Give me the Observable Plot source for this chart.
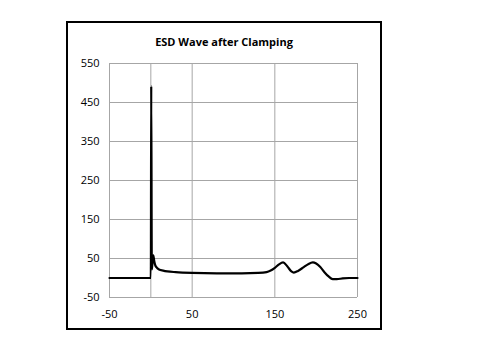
<!DOCTYPE html>
<html>
<head>
<meta charset="utf-8">
<script src="https://cdn.jsdelivr.net/npm/d3@7"></script>
<script src="https://cdn.jsdelivr.net/npm/@observablehq/plot@0.6"></script>
<style>
  html, body { margin: 0; padding: 0; background: #fff; }
  #page { position: relative; width: 502px; height: 356px; overflow: hidden; font-family: "Open Sans", sans-serif; }
  #frame { position: absolute; left: 66px; top: 21px; width: 312px; height: 305px; border: 2px solid #000; }
  #title { position: absolute; left: 66px; width: 316px; top: 34px; text-align: center; font-weight: bold; font-size: 11px; color: #000; }
  #chart { position: absolute; left: 67px; top: 50px; }
</style>
</head>
<body>
<div id="page">
  <div id="frame"></div>
  <div id="title">ESD Wave after Clamping</div>
  <div id="chart"></div>
</div>
<script>
// Time axis (x) and voltage (y)
const time = [-50, -0.2, 0, 0.5, 1.2, 2, 3, 4, 5, 7, 10, 15, 20, 30, 50, 80, 110, 130, 140, 145, 150, 155, 160, 165, 170, 173, 178, 185, 190, 196, 200, 205, 210, 215, 220, 225, 232, 240, 250];
const voltage = [0, 0, 0, 492, 22, 40, 58, 45, 35, 27, 22, 19, 17, 15, 13, 12, 12, 13, 15, 19, 26, 35, 40, 30, 17, 14, 18, 28, 35, 40, 37, 28, 15, 4, -3, -3, -1, 0, 0];
const xTicks = [-50, 50, 150, 250];
const xGrid = [-50, 0, 50, 150, 250];
const yTicks = [-50, 50, 150, 250, 350, 450, 550];

const data = time.map((t, i) => ({t, v: voltage[i]}));

const chart = Plot.plot({
  width: 310,
  height: 270,
  marginLeft: 42,
  marginRight: 20,
  marginTop: 13,
  marginBottom: 23,
  style: {fontFamily: "Open Sans, sans-serif", fontSize: "11px", color: "#000", background: "transparent"},
  x: {domain: [-50, 250], ticks: xTicks, tickSize: 0, tickPadding: 13, label: null},
  y: {domain: [-50, 550], ticks: yTicks, tickSize: 0, tickPadding: 10, label: null},
  marks: [
    Plot.ruleX(xGrid, {stroke: "#a6a6a6", strokeWidth: 1}),
    Plot.ruleY(yTicks, {stroke: "#a6a6a6", strokeWidth: 1}),
    Plot.line(data, {x: "t", y: "v", stroke: "#000", strokeWidth: 2.2, curve: "monotone-x"}),
    Plot.axisX({ticks: xTicks, tickSize: 0, tickPadding: 13, tickFormat: d => String(d)}),
    Plot.axisY({ticks: yTicks, tickSize: 0, tickPadding: 10, tickFormat: d => String(d)})
  ]
});
document.getElementById("chart").appendChild(chart);
</script>
</body>
</html>
